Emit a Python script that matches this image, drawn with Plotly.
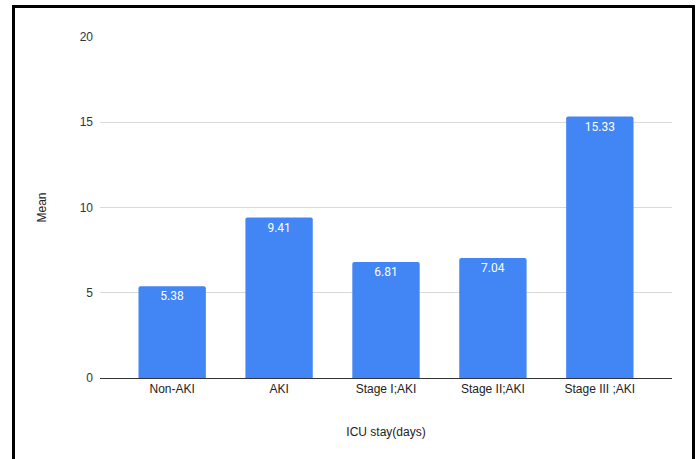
import plotly.graph_objects as go

# ICU stay (days): mean by AKI group
categories = ["Non-AKI", "AKI", "Stage I;AKI", "Stage II;AKI", "Stage III ;AKI"]
mean_days = [5.38, 9.41, 6.81, 7.04, 15.33]
y_ticks = [0, 5, 10, 15, 20]

W, H = 699, 459
L, R, T, B = 100, 27, 37, 81
pw, ph = W - L - R, H - T - B

def px_x(p):
    return (p - L) / pw

def px_y(p):
    return (H - B - p) / ph

fig = go.Figure(
    go.Bar(
        x=categories,
        y=mean_days,
        width=0.63,
        marker=dict(color="#4285F4", cornerradius=2, line=dict(width=0)),
        text=[f"{v:.2f}" for v in mean_days],
        textposition="inside",
        insidetextanchor="end",
        textangle=0,
        textfont=dict(family="Roboto, Arial, sans-serif", size=12, color="white"),
        cliponaxis=False,
    )
)

fig.update_layout(
    width=W,
    height=H,
    margin=dict(l=L, r=R, t=T, b=B),
    paper_bgcolor="white",
    plot_bgcolor="white",
    showlegend=False,
    font=dict(family="Liberation Sans, Arial, sans-serif", size=12, color="#333333"),
    xaxis=dict(
        range=[-0.675, 4.675],
        showgrid=False,
        showline=True,
        linecolor="#333333",
        linewidth=1,
        ticks="",
        tickfont=dict(size=12, color="#222222"),
        title=dict(text="ICU stay(days)", font=dict(size=12, color="#222222"), standoff=32),
    ),
    yaxis=dict(
        range=[0, 20],
        tickvals=y_ticks,
        showgrid=True,
        gridcolor="#d9d9d9",
        gridwidth=1,
        zeroline=False,
        showline=False,
        ticks="",
        ticklabelstandoff=6,
        tickfont=dict(size=12, color="#333333"),
        title=dict(text="Mean", font=dict(size=12, color="#222222"), standoff=30),
    ),
    shapes=[
        dict(
            type="rect",
            xref="paper",
            yref="paper",
            x0=px_x(13.5),
            x1=px_x(693.5),
            y0=px_y(470),
            y1=px_y(6.5),
            line=dict(color="black", width=3),
            fillcolor="rgba(0,0,0,0)",
            layer="above",
        )
    ],
)

fig.write_html("out.html")
